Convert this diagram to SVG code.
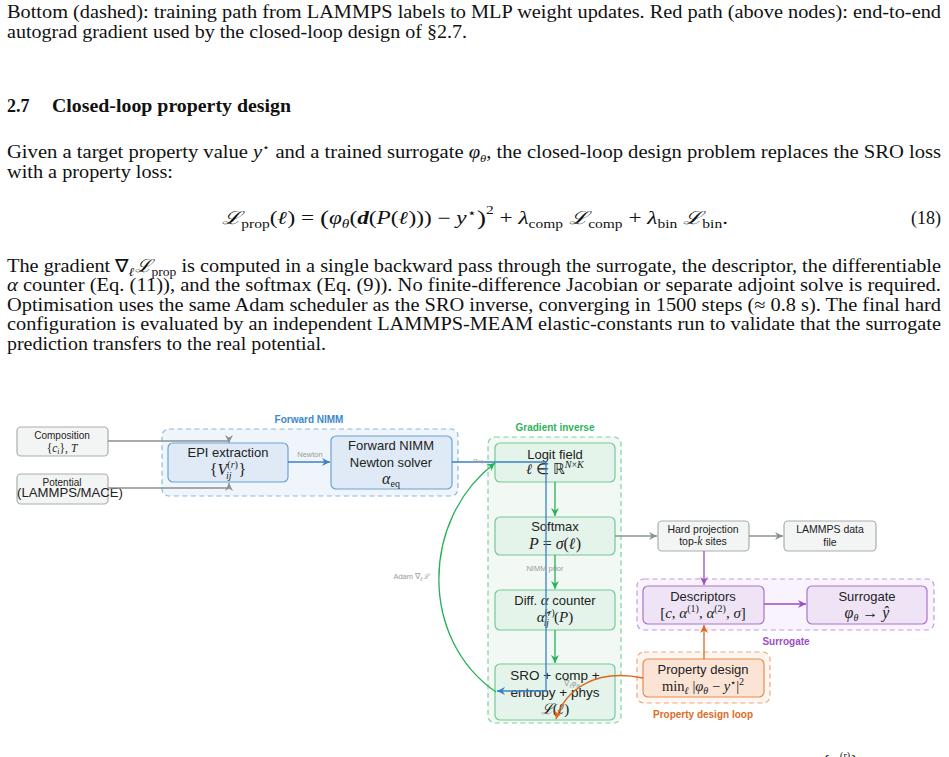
<svg xmlns="http://www.w3.org/2000/svg" width="949" height="757" viewBox="0 0 949 757">
<style>
.p{font-family:"Liberation Serif","Times New Roman",serif;font-size:18px;fill:#111}
.h{font-family:"Liberation Serif","Times New Roman",serif;font-size:18px;font-weight:bold;fill:#111}
.mi{font-style:italic}
.bi{font-style:italic;font-weight:bold}
.s{font-family:"Liberation Sans",Arial,sans-serif;fill:#222;text-anchor:middle}
.m{font-family:"Liberation Serif","Times New Roman",serif}
.gl{font-family:"Liberation Sans",Arial,sans-serif;font-weight:bold;font-size:10px;text-anchor:middle}
.el{font-family:"Liberation Sans",Arial,sans-serif;font-size:7.5px;fill:#9a9a9a;text-anchor:middle}
.grp{stroke-width:1.2;stroke-dasharray:5 3.5}
.nd{stroke-width:1.2}
.gray{fill:#f3f5f4;stroke:#a7afac}
.blue{fill:#dfeaf6;stroke:#6aa3d6}
.green{fill:#e4f4ea;stroke:#74c894}
.purple{fill:#efe4f6;stroke:#ad72cc}
.orange{fill:#fbe4d5;stroke:#e88d50}
.e{fill:none;stroke-width:1.3}
</style>
<defs>
<marker id="ag" markerUnits="userSpaceOnUse" markerWidth="9" markerHeight="8" refX="8" refY="4" orient="auto"><path d="M0,0 L8,4 L0,8 L2.5,4 z" fill="#8a9390"/></marker>
<marker id="ab" markerUnits="userSpaceOnUse" markerWidth="9" markerHeight="8" refX="8" refY="4" orient="auto"><path d="M0,0 L8,4 L0,8 L2.5,4 z" fill="#3a82c4"/></marker>
<marker id="agr" markerUnits="userSpaceOnUse" markerWidth="9" markerHeight="8" refX="8" refY="4" orient="auto"><path d="M0,0 L8,4 L0,8 L2.5,4 z" fill="#27b05a"/></marker>
<marker id="ap" markerUnits="userSpaceOnUse" markerWidth="9" markerHeight="8" refX="8" refY="4" orient="auto"><path d="M0,0 L8,4 L0,8 L2.5,4 z" fill="#9b4fc2"/></marker>
<marker id="ao" markerUnits="userSpaceOnUse" markerWidth="9" markerHeight="8" refX="8" refY="4" orient="auto"><path d="M0,0 L8,4 L0,8 L2.5,4 z" fill="#e0661e"/></marker>
</defs>
<rect width="949" height="757" fill="#ffffff"/>

<g id="page-text">
<text class="p" x="7" y="18" textLength="934" lengthAdjust="spacingAndGlyphs">Bottom (dashed): training path from LAMMPS labels to MLP weight updates. Red path (above nodes): end-to-end</text>
<text class="p" x="7" y="38" textLength="460" lengthAdjust="spacingAndGlyphs">autograd gradient used by the closed-loop design of §2.7.</text>
<text class="h" x="7" y="112">2.7</text>
<text class="h" x="52" y="112" textLength="239" lengthAdjust="spacingAndGlyphs">Closed-loop property design</text>
<text class="p" x="7" y="158" textLength="934" lengthAdjust="spacingAndGlyphs">Given a target property value <tspan class="mi">y</tspan><tspan font-size="11" dy="-7">⋆</tspan><tspan dy="7"> and a trained surrogate </tspan><tspan class="mi">φ</tspan><tspan class="mi" font-size="11" dy="4">θ</tspan><tspan dy="-4">, the closed-loop design problem replaces the SRO loss</tspan></text>
<text class="p" x="7" y="178" textLength="166" lengthAdjust="spacingAndGlyphs">with a property loss:</text>
<text class="p" x="222" y="224" textLength="506" lengthAdjust="spacingAndGlyphs"><tspan class="mi">ℒ</tspan><tspan font-size="12" dy="4">prop</tspan><tspan dy="-4">(</tspan><tspan class="bi">ℓ</tspan>) = <tspan font-size="21" dy="1">(</tspan><tspan class="mi" dy="-1">φ</tspan><tspan class="mi" font-size="12" dy="4">θ</tspan><tspan dy="-4">(</tspan><tspan class="bi">d</tspan>(<tspan class="mi">P</tspan>(<tspan class="bi">ℓ</tspan>))) − <tspan class="mi">y</tspan><tspan font-size="12" dy="-7">⋆</tspan><tspan font-size="21" dy="8">)</tspan><tspan font-size="12" dy="-11">2</tspan><tspan dy="10"> + </tspan><tspan class="mi">λ</tspan><tspan font-size="12" dy="4">comp</tspan><tspan dy="-4"> </tspan><tspan class="mi">ℒ</tspan><tspan font-size="12" dy="4">comp</tspan><tspan dy="-4"> + </tspan><tspan class="mi">λ</tspan><tspan font-size="12" dy="4">bin</tspan><tspan dy="-4"> </tspan><tspan class="mi">ℒ</tspan><tspan font-size="12" dy="4">bin</tspan><tspan dy="-4">.</tspan></text>
<text class="p" x="941" y="224" text-anchor="end">(18)</text>
<text class="p" x="7" y="272" textLength="934" lengthAdjust="spacingAndGlyphs">The gradient ∇<tspan class="bi" font-size="12" dy="4">ℓ</tspan><tspan class="mi" dy="-4">ℒ</tspan><tspan font-size="12" dy="4">prop</tspan><tspan dy="-4"> is computed in a single backward pass through the surrogate, the descriptor, the differentiable</tspan></text>
<text class="p" x="7" y="291" textLength="934" lengthAdjust="spacingAndGlyphs"><tspan class="mi">α</tspan> counter (Eq. (11)), and the softmax (Eq. (9)). No finite-difference Jacobian or separate adjoint solve is required.</text>
<text class="p" x="7" y="311" textLength="934" lengthAdjust="spacingAndGlyphs">Optimisation uses the same Adam scheduler as the SRO inverse, converging in 1500 steps (≈ 0.8 s). The final hard</text>
<text class="p" x="7" y="330" textLength="934" lengthAdjust="spacingAndGlyphs">configuration is evaluated by an independent LAMMPS-MEAM elastic-constants run to validate that the surrogate</text>
<text class="p" x="7" y="350" textLength="319" lengthAdjust="spacingAndGlyphs">prediction transfers to the real potential.</text>
<text class="p" x="822" y="768" font-size="15">{<tspan class="mi">α</tspan><tspan font-size="10" dy="-9">(r)</tspan><tspan dy="9">}</tspan></text>
</g>

<g id="group-forward-nimm">
<rect class="grp" x="162" y="429" width="296" height="67" rx="7" fill="#eff5fb" stroke="#8cbae2"/>
<text class="gl" x="309" y="423" fill="#3d88cc">Forward NIMM</text>
</g>
<g id="group-gradient-inverse">
<rect class="grp" x="488" y="437" width="133" height="286" rx="7" fill="#f2f9f4" stroke="#80d1a0"/>
<text class="gl" x="555" y="431" fill="#2fb35c">Gradient inverse</text>
</g>
<g id="group-surrogate">
<rect class="grp" x="637" y="579" width="297" height="51" rx="7" fill="#f8f3fc" stroke="#c59be0"/>
<text class="gl" x="786" y="645" fill="#9b4fc2">Surrogate</text>
</g>
<g id="group-property-loop">
<rect class="grp" x="637" y="652" width="133" height="51" rx="7" fill="#fdf5f0" stroke="#f0a878"/>
<text class="gl" x="703" y="718" fill="#e06a1f">Property design loop</text>
</g>

<g id="node-composition">
<rect class="nd gray" x="17" y="427" width="91" height="29" rx="4"/>
<text class="s" x="62" y="439" font-size="10">Composition</text>
<text class="s m" x="62" y="452" font-size="11.5">{<tspan class="mi">c</tspan><tspan class="mi" font-size="8" dy="2">i</tspan><tspan dy="-2">}, </tspan><tspan class="mi">T</tspan></text>
</g>
<g id="node-potential">
<rect class="nd gray" x="17" y="474" width="91" height="30" rx="4"/>
<text class="s" x="62" y="486" font-size="10">Potential</text>
<text class="s" x="17" y="497" font-size="13" style="text-anchor:start" textLength="106" lengthAdjust="spacingAndGlyphs">(LAMMPS/MACE)</text>
</g>
<g id="node-epi">
<rect class="nd blue" x="168" y="443" width="120" height="39" rx="5"/>
<text class="s" x="228" y="457" font-size="13">EPI extraction</text>
<text class="s m" x="228" y="475" font-size="16">{<tspan class="mi">V</tspan><tspan font-size="10" dy="-7">(<tspan class="mi">r</tspan>)</tspan><tspan class="mi" font-size="10" dx="-12" dy="11">ij</tspan><tspan dx="7" dy="-4">}</tspan></text>
</g>
<g id="node-forward-nimm">
<rect class="nd blue" x="331" y="436" width="121" height="53" rx="5"/>
<text class="s" x="391" y="450" font-size="13">Forward NIMM</text>
<text class="s" x="391" y="467" font-size="13">Newton solver</text>
<text class="s m" x="391" y="484" font-size="16"><tspan class="mi">α</tspan><tspan font-size="10" dy="3">eq</tspan></text>
</g>
<g id="node-logit">
<rect class="nd green" x="495" y="443" width="120" height="39" rx="5"/>
<text class="s" x="555" y="459" font-size="13">Logit field</text>
<text class="s m" x="555" y="474" font-size="14.5"><tspan class="bi">ℓ</tspan> ∈ ℝ<tspan class="mi" font-size="10" dy="-6">N</tspan><tspan font-size="10">×</tspan><tspan class="mi" font-size="10">K</tspan></text>
</g>
<g id="node-softmax">
<rect class="nd green" x="495" y="517" width="120" height="38" rx="5"/>
<text class="s" x="555" y="531" font-size="13">Softmax</text>
<text class="s m" x="555" y="549" font-size="16"><tspan class="mi">P</tspan> = <tspan class="mi">σ</tspan>(<tspan class="bi">ℓ</tspan>)</text>
</g>
<g id="node-counter">
<rect class="nd green" x="495" y="590" width="120" height="40" rx="5"/>
<text class="s" x="555" y="605" font-size="13">Diff. <tspan class="m mi" font-size="15">α</tspan> counter</text>
<text class="s m" x="555" y="622" font-size="15"><tspan class="mi">α̂</tspan><tspan font-size="9.5" dy="-6">(<tspan class="mi">r</tspan>)</tspan><tspan class="mi" font-size="9.5" dx="-11" dy="10">ij</tspan><tspan dx="5" dy="-4">(</tspan><tspan class="mi">P</tspan>)</text>
</g>
<g id="node-sro">
<rect class="nd green" x="495" y="664" width="120" height="56" rx="5"/>
<text class="s" x="555" y="680" font-size="13.5">SRO + comp +</text>
<text class="s" x="555" y="697" font-size="13.5">entropy + phys</text>
<text class="s m" x="555" y="714" font-size="15"><tspan class="mi">ℒ</tspan>(<tspan class="bi">ℓ</tspan>)</text>
</g>
<g id="node-hard-projection">
<rect class="nd gray" x="658" y="521" width="91" height="30" rx="4"/>
<text class="s" x="703" y="533" font-size="10.5">Hard projection</text>
<text class="s" x="703" y="545" font-size="10.5">top-<tspan class="m mi" font-size="11.5">k</tspan> sites</text>
</g>
<g id="node-lammps">
<rect class="nd gray" x="784" y="521" width="92" height="30" rx="4"/>
<text class="s" x="830" y="533" font-size="10.5">LAMMPS data</text>
<text class="s" x="830" y="546" font-size="10.5">file</text>
</g>
<g id="node-descriptors">
<rect class="nd purple" x="643" y="586" width="121" height="38" rx="5"/>
<text class="s" x="703" y="601" font-size="13">Descriptors</text>
<text class="s m" x="703" y="618" font-size="15">[<tspan class="mi">c</tspan>, <tspan class="mi">α</tspan><tspan font-size="10" dy="-6">(1)</tspan><tspan dy="6">, </tspan><tspan class="mi">α</tspan><tspan font-size="10" dy="-6">(2)</tspan><tspan dy="6">, </tspan><tspan class="mi">σ</tspan>]</text>
</g>
<g id="node-surrogate">
<rect class="nd purple" x="807" y="586" width="120" height="38" rx="5"/>
<text class="s" x="867" y="601" font-size="13">Surrogate</text>
<text class="s m" x="867" y="618" font-size="16"><tspan class="mi">φ</tspan><tspan class="mi" font-size="10" dy="3">θ</tspan><tspan dy="-3"> → </tspan><tspan class="mi">ŷ</tspan></text>
</g>
<g id="node-property-design">
<rect class="nd orange" x="643" y="659" width="121" height="38" rx="5"/>
<text class="s" x="703" y="674" font-size="13">Property design</text>
<text class="s m" x="703" y="691" font-size="14.5">min<tspan class="bi" font-size="10" dy="3">ℓ</tspan><tspan dy="-3"> |</tspan><tspan class="mi">φ</tspan><tspan class="mi" font-size="10" dy="3">θ</tspan><tspan dy="-3"> − </tspan><tspan class="mi">y</tspan><tspan font-size="10" dy="-5">⋆</tspan><tspan dy="5">|</tspan><tspan font-size="10" dy="-6">2</tspan></text>
</g>

<g id="connectors">
<path class="e" d="M108,441 H229 V443" stroke="#8a9390" marker-end="url(#ag)"/>
<path class="e" d="M108,488 H229 V483" stroke="#8a9390" marker-end="url(#ag)"/>
<path class="e" d="M288,462 H330" stroke="#3a82c4" marker-end="url(#ab)"/>
<text class="el" x="310" y="457">Newton</text>
<path class="e" d="M452,462 H546 V691 H497" stroke="#3a82c4" marker-end="url(#ab)"/>
<text class="el m" x="478" y="463" font-size="7">α<tspan font-size="5">eq</tspan></text>
<text class="el" x="545" y="571" font-size="8">NIMM prior</text>
<path class="e" d="M555,482 V516" stroke="#27b05a" marker-end="url(#agr)"/>
<path class="e" d="M555,555 V589" stroke="#27b05a" marker-end="url(#agr)"/>
<path class="e" d="M555,630 V663" stroke="#27b05a" marker-end="url(#agr)"/>
<path class="e" d="M496,692 C420,640 420,520 495,463" stroke="#27b05a" marker-end="url(#agr)"/>
<text class="el" x="411" y="579">Adam ∇<tspan class="m mi" font-size="6" dy="2">ℓ</tspan><tspan class="m mi" dy="-2">ℒ</tspan></text>
<path class="e" d="M615,536 H657" stroke="#8a9390" marker-end="url(#ag)"/>
<path class="e" d="M749,536 H783" stroke="#8a9390" marker-end="url(#ag)"/>
<path class="e" d="M704,551 V585" stroke="#9b4fc2" marker-end="url(#ap)"/>
<path class="e" d="M764,604 H806" stroke="#9b4fc2" marker-end="url(#ap)"/>
<path class="e" d="M704,659 V625" stroke="#e0661e" marker-end="url(#ao)"/>
<path class="e" d="M643,678 C595,668 565,690 556,719" stroke="#e0661e" marker-end="url(#ao)"/>
<text class="el m" x="572" y="686" font-size="8" fill="#bdbdbd">∇<tspan class="mi" font-size="6" dy="2">ℓ</tspan><tspan class="mi" dy="-2">φ</tspan><tspan class="mi" font-size="6" dy="2">θ</tspan></text>
</g>
</svg>
